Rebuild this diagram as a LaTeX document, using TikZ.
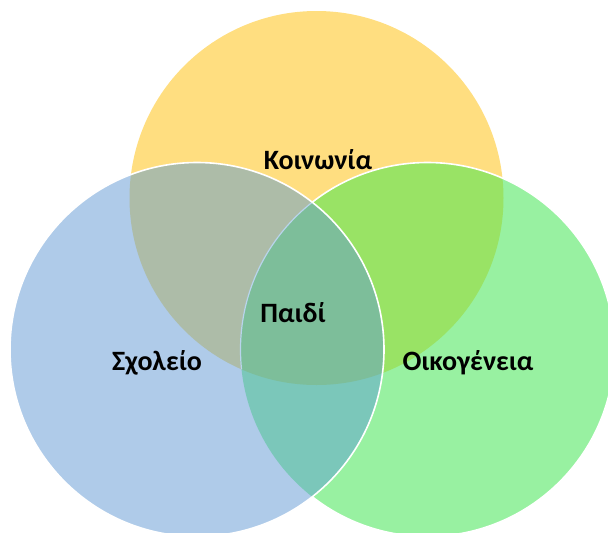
\documentclass[tikz,border=0pt]{standalone}
\usepackage{fontspec}
\setmainfont{Carlito}
\definecolor{cY}{RGB}{255,222,128}
\definecolor{cB}{RGB}{175,203,233}
\definecolor{cG}{RGB}{152,241,161}
\definecolor{cYB}{RGB}{173,188,168}
\definecolor{cYG}{RGB}{153,227,101}
\definecolor{cBG}{RGB}{123,199,186}
\definecolor{cYBG}{RGB}{125,190,154}
\definecolor{cEdge}{RGB}{185,212,236}
\tikzset{
  lbl/.style={font=\fontsize{28}{32}\selectfont\bfseries, text=black, inner sep=0pt},
  rim/.style={draw=white, line width=1.6pt}
}
\begin{document}
\begin{tikzpicture}[x=1pt,y=-1pt]
\useasboundingbox (0,0) rectangle (608,533);
\def\Yc{(316.5,198) circle[radius=187]}
\def\Bc{(197,349.5) circle[radius=187]}
\def\Gc{(427.5,349.5) circle[radius=187]}
\begin{scope}
\clip (0,0) rectangle (608,533);
\fill[cY] \Yc;
\fill[cG] \Gc;
\fill[cB] \Bc;
\begin{scope}\clip \Yc; \fill[cYB] \Bc; \fill[cYG] \Gc; \end{scope}
\begin{scope}\clip \Bc; \fill[cBG] \Gc; \end{scope}
\begin{scope}\clip \Yc; \clip \Bc; \fill[cYBG] \Gc; \end{scope}
% green rim outside the blue disc
\begin{scope}[even odd rule]
\clip (-10,-10) rectangle (620,545) \Bc;
\draw[rim] \Gc;
\end{scope}
\begin{scope}
\clip \Yc; \clip \Bc;
\draw[draw=cEdge, line width=1.2pt] \Gc;
\end{scope}
\draw[rim] \Bc;
\end{scope}
\node[lbl] (soc) at (318,160) {Κοινωνία};
\node[lbl] (child) at (293,313) {Παιδί};
\node[lbl] (school) at (157,363) {Σχολείο};
\node[lbl] (family) at (468,363) {Οικογένεια};
\end{tikzpicture}
\end{document}
